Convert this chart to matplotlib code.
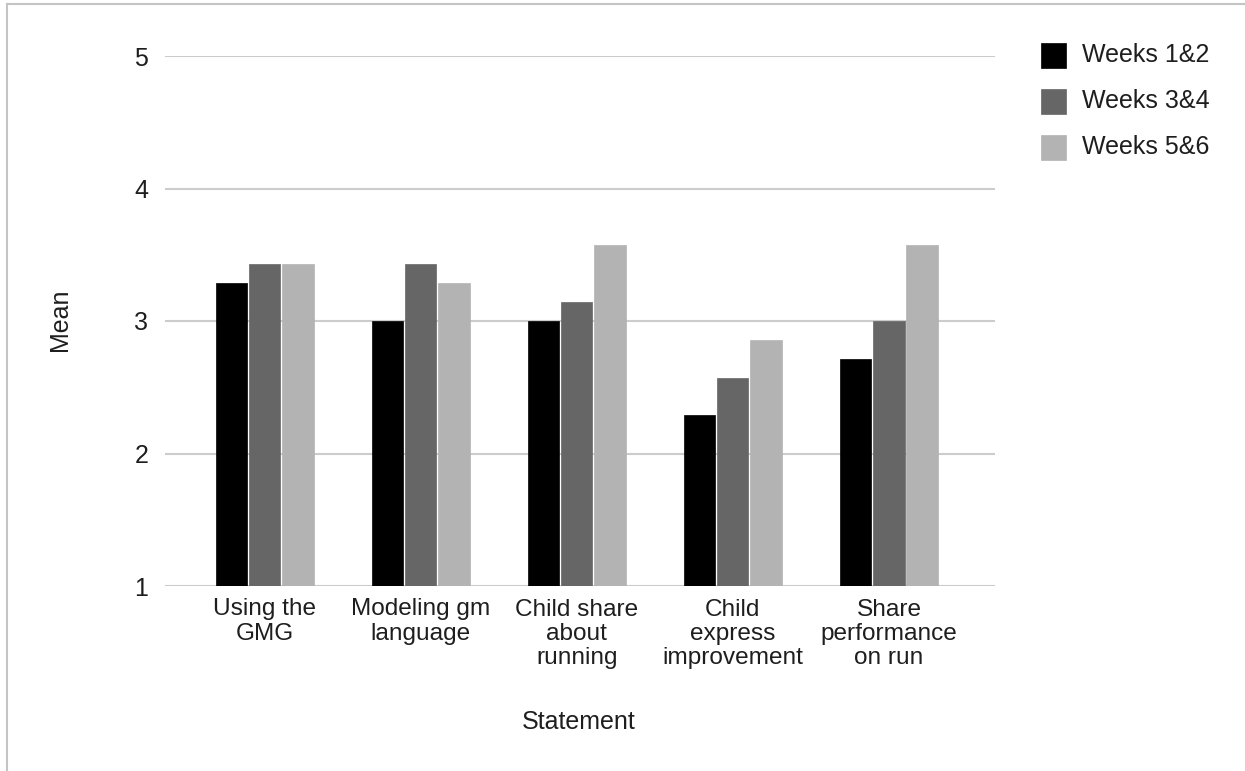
import matplotlib
matplotlib.use("Agg")
import matplotlib.pyplot as plt
from matplotlib.lines import Line2D
from matplotlib.patches import Rectangle
import numpy as np

categories = ["Using the\nGMG", "Modeling gm\nlanguage", "Child share\nabout\nrunning",
              "Child\nexpress\nimprovement", "Share\nperformance\non run"]
series_names = ["Weeks 1&2", "Weeks 3&4", "Weeks 5&6"]
weeks_1_2 = [3.29, 3.00, 3.00, 2.29, 2.71]
weeks_3_4 = [3.43, 3.43, 3.14, 2.57, 3.00]
weeks_5_6 = [3.43, 3.29, 3.57, 2.86, 3.57]
colors = ["#000000", "#666666", "#b3b3b3"]
y_ticks = [1, 2, 3, 4, 5]

plt.rcParams['font.family'] = ['Liberation Sans', 'DejaVu Sans']
FS = 18
TC = "#1e1e1e"
W, H = 1245, 771
fig = plt.figure(figsize=(W / 100, H / 100), dpi=100)
ax = fig.add_axes([165 / W, 1 - 586 / H, (995 - 165) / W, (586 - 56) / H])

x = np.arange(len(categories))
width = 0.2
step = 0.212
for i, (vals, c, name) in enumerate(zip([weeks_1_2, weeks_3_4, weeks_5_6], colors, series_names)):
    ax.bar(x + (i - 1) * step, np.array(vals) - 1, width, bottom=1, color=c, label=name,
           edgecolor=c, linewidth=0.5, zorder=3)

ax.set_ylim(1, 5)
ax.set_xlim(-0.64, 4.68)
ax.set_yticks(y_ticks)
ax.set_yticklabels([str(t) for t in y_ticks], fontsize=FS, color=TC)
ax.set_xticks(x)
ax.set_xticklabels(categories, fontsize=17.6, color=TC, linespacing=1.12)
ax.tick_params(axis='both', length=0)
ax.tick_params(axis='y', pad=12)
ax.tick_params(axis='x', pad=9)
ax.grid(axis='y', color="#cccccc", linewidth=1.5, zorder=0)
for s in ax.spines.values():
    s.set_visible(False)

fig.text(60 / W, 1 - 320 / H, "Mean", rotation=90, ha='center', va='center',
         fontsize=FS, color=TC)
fig.text(579 / W, 1 - 722 / H, "Statement", ha='center', va='center',
         fontsize=FS, color=TC)

# legend
for i, (name, c) in enumerate(zip(series_names, colors)):
    yc = 55 + i * 46
    fig.add_artist(Rectangle((1041 / W, 1 - (yc + 12.5) / H), 25 / W, 25 / H,
                             transform=fig.transFigure, facecolor=c, edgecolor=c, linewidth=0.5))
    fig.text(1082 / W, 1 - yc / H, name, ha='left', va='center', fontsize=FS, color=TC)

# frame lines
fig.add_artist(Line2D([7 / W, 1], [1 - 4 / H, 1 - 4 / H], transform=fig.transFigure,
                      color="#c4c4c4", linewidth=1.5))
fig.add_artist(Line2D([7 / W, 7 / W], [0, 1 - 4 / H], transform=fig.transFigure,
                      color="#c4c4c4", linewidth=1.5))

fig.savefig("out.png", dpi=100)
